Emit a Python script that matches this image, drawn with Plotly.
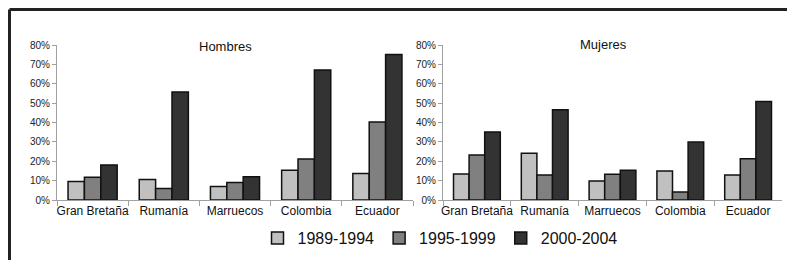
import plotly.graph_objects as go

countries = ["Gran Bretaña", "Rumanía", "Marruecos", "Colombia", "Ecuador"]
periods = ["1989-1994", "1995-1999", "2000-2004"]

hombres_1989 = [0.096, 0.106, 0.070, 0.153, 0.137]
hombres_1995 = [0.117, 0.059, 0.090, 0.212, 0.403]
hombres_2000 = [0.181, 0.557, 0.120, 0.671, 0.751]

mujeres_1989 = [0.134, 0.241, 0.098, 0.150, 0.129]
mujeres_1995 = [0.232, 0.129, 0.133, 0.041, 0.213]
mujeres_2000 = [0.351, 0.466, 0.153, 0.299, 0.509]

colors = ["#c0c0c0", "#808080", "#333333"]

# page body has an 8px default margin on every side; size the figure so the page does not scroll
OFF = 8
W, H = 795 - 2 * OFF, 270 - 2 * OFF - 2
fig = go.Figure()

hombres = [hombres_1989, hombres_1995, hombres_2000]
mujeres = [mujeres_1989, mujeres_1995, mujeres_2000]

for i, (name, col) in enumerate(zip(periods, colors)):
    fig.add_trace(go.Bar(x=countries, y=hombres[i], name=name,
                         marker=dict(color=col, line=dict(color="#111111", width=1.5)),
                         xaxis="x", yaxis="y", legendgroup=name, showlegend=True))
for i, (name, col) in enumerate(zip(periods, colors)):
    fig.add_trace(go.Bar(x=countries, y=mujeres[i], name=name,
                         marker=dict(color=col, line=dict(color="#111111", width=1.5)),
                         xaxis="x2", yaxis="y2", legendgroup=name, showlegend=False))


def px_x(p):
    return min(1.0, (p - OFF) / W)


def px_y(p):
    return (H - (p - OFF)) / H


axis_common = dict(showline=True, linecolor="#a0a0a0", linewidth=1, ticks="outside", tickcolor="#a0a0a0",
                   showgrid=False, zeroline=False, automargin=False)
xcommon = dict(axis_common, type="category", tickson="boundaries", ticklen=5, range=[-0.5, 4.5],
               tickangle=0, tickfont=dict(size=12, color="#111111"))
ycommon = dict(axis_common, range=[0, 0.8], dtick=0.1, tick0=0, tickformat=".0%", ticklen=4,
               tickfont=dict(size=10, color="#222222"))

fig.update_layout(
    width=W, height=H,
    margin=dict(l=0, r=0, t=0, b=0),
    paper_bgcolor="white", plot_bgcolor="rgba(0,0,0,0)",
    font=dict(family="Liberation Sans, Arial, sans-serif", color="#111111"),
    barmode="group", bargap=0.31, bargroupgap=0,
    xaxis=dict(xcommon, domain=[px_x(57), px_x(413)], anchor="y"),
    yaxis=dict(ycommon, domain=[px_y(200), px_y(45)], anchor="x"),
    xaxis2=dict(xcommon, domain=[px_x(443), px_x(782)], anchor="y2"),
    yaxis2=dict(ycommon, domain=[px_y(200), px_y(45)], anchor="x2"),
    showlegend=True,
    legend=dict(orientation="h", x=px_x(440), xanchor="center", y=px_y(238), yanchor="middle",
                font=dict(size=16, color="#111111"), itemwidth=30, bgcolor="rgba(0,0,0,0)",
                traceorder="normal"),
    annotations=[
        dict(text="Hombres", x=px_x(225), y=px_y(46), xref="paper", yref="paper", showarrow=False,
             font=dict(size=13, color="#111111"), xanchor="center", yanchor="middle"),
        dict(text="Mujeres", x=px_x(603), y=px_y(44), xref="paper", yref="paper", showarrow=False,
             font=dict(size=13, color="#111111"), xanchor="center", yanchor="middle"),
    ],
    shapes=[
        dict(type="line", xref="paper", yref="paper", x0=px_x(9.5), x1=1.0, y0=px_y(9.5), y1=px_y(9.5),
             line=dict(color="#222222", width=3)),
        dict(type="line", xref="paper", yref="paper", x0=px_x(9.5), x1=px_x(9.5), y0=px_y(9.5), y1=0.0,
             line=dict(color="#222222", width=3)),
    ],
)

fig.write_html("out.html")
